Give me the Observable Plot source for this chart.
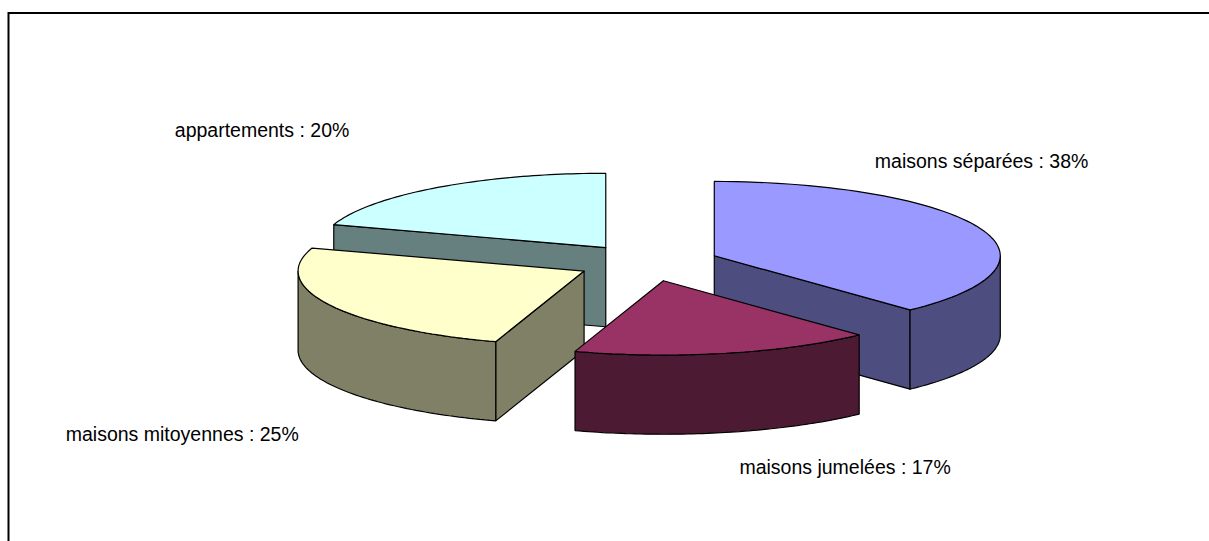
<!DOCTYPE html>
<html>
<head>
<meta charset="utf-8">
<style>
  html, body { margin: 0; padding: 0; background: #fff; overflow: hidden; }
</style>
<script src="https://cdn.jsdelivr.net/npm/d3@7"></script>
<script src="https://cdn.jsdelivr.net/npm/@observablehq/plot@0.6"></script>
</head>
<body>
<div id="chart"></div>
<script>
// Housing stock by dwelling type (shares in percent, clockwise from twelve o'clock)
const categories = ["maisons séparées", "maisons jumelées", "maisons mitoyennes", "appartements"];
const shares = [38, 17, 25, 20];

// Slice colours: top face and darker side walls
const topColors = ["#9999FF", "#993366", "#FFFFCC", "#CCFFFF"];
const sideColors = ["#4D4D80", "#4D1A33", "#808066", "#668080"];

// Pie proportions, in radii of the ellipse
const explosion = 0.25;
const thickness = 1.066;
const width = 1209, height = 541;

// Label placement relative to the rim point at each slice's bisector
const labelOffsets = [[1.4, -67], [119.3, 115], [-147, 130], [-175.6, -57]];

const cumulative = d3.cumsum(shares);
const slices = categories.map((name, i) => {
  const a0 = ((cumulative[i] - shares[i]) / 100) * 2 * Math.PI;
  const a1 = (cumulative[i] / 100) * 2 * Math.PI;
  const mid = (a0 + a1) / 2;
  return {name, i, a0, a1, mid, share: shares[i], ox: explosion * Math.sin(mid), oy: explosion * Math.cos(mid)};
});

// Back-to-front drawing order
const paintOrder = [3, 0, 2, 1];

const rim = (s, a) => [s.ox + Math.sin(a), s.oy + Math.cos(a)];
const arcAngles = (a0, a1) => d3.range(0, 65).map((k) => a0 + ((a1 - a0) * k) / 64);

const vertices = [];
function addFace(id, fill, pts) {
  [...pts, pts[0]].forEach(([x, y]) => vertices.push({id, fill, x, y}));
}

for (const i of paintOrder) {
  const s = slices[i];
  const tip = [s.ox, s.oy];
  const drop = ([x, y]) => [x, y - thickness];

  // Radial wall at the start angle, only when it faces the viewer
  if (Math.cos(s.a0 - Math.PI / 2) < -1e-6) {
    const r = rim(s, s.a0);
    addFace(`${i}-start`, sideColors[i], [tip, r, drop(r), drop(tip)]);
  }
  // Radial wall at the end angle, only when it faces the viewer
  if (Math.cos(s.a1 + Math.PI / 2) < -1e-6) {
    const r = rim(s, s.a1);
    addFace(`${i}-end`, sideColors[i], [tip, r, drop(r), drop(tip)]);
  }
  // Outer wall along the front half of the rim
  const from = Math.max(s.a0, Math.PI / 2);
  const to = Math.min(s.a1, (3 * Math.PI) / 2);
  if (to > from) {
    const edge = arcAngles(from, to).map((a) => rim(s, a));
    addFace(`${i}-rim`, sideColors[i], [...edge, ...edge.map(drop).reverse()]);
  }
  // Top face
  addFace(`${i}-top`, topColors[i], [tip, ...arcAngles(s.a0, s.a1).map((a) => rim(s, a))]);
}

const labels = slices.map((s, i) => {
  const [x, y] = rim(s, s.mid);
  return {x, y, dx: labelOffsets[i][0], dy: labelOffsets[i][1], text: `${s.name} : ${s.share}%`};
});

const chart = Plot.plot({
  width,
  height,
  margin: 0,
  x: {domain: [-647.3 / 286, (width - 647.3) / 286], range: [0, width], axis: null},
  y: {domain: [262.1 / 74.3, (262.1 - height) / 74.3], range: [0, height], axis: null},
  style: {fontFamily: "'Liberation Sans', Arial, sans-serif", background: "#fff"},
  marks: [
    Plot.line(vertices, {
      x: "x", y: "y", z: "id",
      fill: "fill", stroke: "#000", strokeWidth: 1.2, curve: "linear", strokeLinejoin: "miter"
    }),
    ...labels.map((d) => Plot.text([d], {
      x: "x", y: "y", text: "text", dx: d.dx, dy: d.dy,
      fontSize: 19.5, fill: "#000", textAnchor: "middle"
    }))
  ]
});
document.getElementById("chart").appendChild(chart);

// Top and left rules of the chart area; the frame runs off the page on the other sides
d3.select(chart).append("path")
  .attr("d", `M8.5,${height}V13H${width}`)
  .attr("fill", "none").attr("stroke", "#000").attr("stroke-width", 2);
</script>
</body>
</html>
